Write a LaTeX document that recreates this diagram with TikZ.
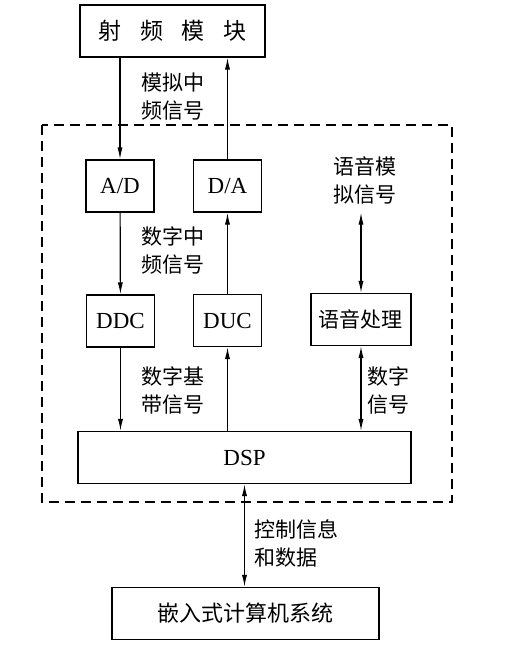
\documentclass[tikz,border=0pt]{standalone}
\usepackage{fontspec}
\setmainfont{Liberation Serif}
\newfontfamily\cjk{Noto Sans CJK SC}
\usetikzlibrary{arrows.meta}

\begin{document}
\begin{tikzpicture}[x=0.5pt, y=-0.5pt,
		blk/.style={draw, line width=0.7pt, inner sep=0pt, minimum height=26pt, font=\fontsize{11.5}{13}\selectfont},
		lbl/.style={align=left, inner sep=0pt, anchor=west, font=\cjk\fontsize{10.5}{14}\selectfont},
		sig/.style={line width=0.6pt, -{Latex[length=6pt,width=2.6pt]}},
		sigb/.style={line width=0.6pt, {Latex[length=6pt,width=2.6pt]}-{Latex[length=6pt,width=2.6pt]}}]
				\useasboundingbox (0,0) rectangle (507,645);
				\draw[line width=1pt, dash pattern=on 5pt off 3pt] (42,125) rectangle (452,502);
				\node[blk, minimum width=92.5pt] (RF)at(172.5, 31) {\cjk 射\hspace{0.8em}频\hspace{0.8em}模\hspace{0.8em}块};
				\node[blk, minimum width=34pt] (AD)at(120, 186) {A/D};
				\node[blk, minimum width=34pt] (DA)at(227.5, 186) {D/A};
				\node[blk, minimum width=34pt] (DDC)at(120.5, 321) {DDC};
				\node[blk, minimum width=34pt] (DUC)at(227.5, 320.5) {DUC};
				\node[blk, minimum width=50pt, font=\cjk\fontsize{10.5}{13}\selectfont] (VOICE)at(361, 319.5) {语音处理};
				\node[blk, minimum width=166.5pt] (DSP)at(244.5, 457.5) {DSP};
				\node[blk, minimum width=133.5pt, font=\cjk\fontsize{11}{13}\selectfont] (HOST)at(245.5, 613.5) {嵌入式计算机系统};
				\node[lbl, anchor=center] (VA)at(365, 180) {语音模\\拟信号};
				\node[lbl] (L1)at(141, 97) {模拟中\\频信号};
				\node[lbl] (L2)at(141, 250) {数字中\\频信号};
				\node[lbl] (L3)at(141, 390) {数字基\\带信号};
				\node[lbl] (L4)at(367, 390) {数字\\信号};
				\node[lbl] (L5)at(254, 543) {控制信息\\和数据};
				\draw[sig] (RF.south -| AD.north) -- (AD.north);
				\draw[sig] (DA.north) -- (RF.south -| DA.north);
				\draw[sig] (AD) -- (DDC);
				\draw[sig] (DUC) -- (DA);
				\draw[sig] (DDC.south) -- (DSP.north -| DDC.south);
				\draw[sig] (DSP.north -| DUC.south) -- (DUC.south);
				\draw[sigb] (VOICE.north |- AD.south) -- (VOICE.north);
				\draw[sigb] (VOICE.south) -- (DSP.north -| VOICE.south);
				\draw[sigb] (DSP.south) -- (HOST.north -| DSP.south);
			\end{tikzpicture}
\end{document}
